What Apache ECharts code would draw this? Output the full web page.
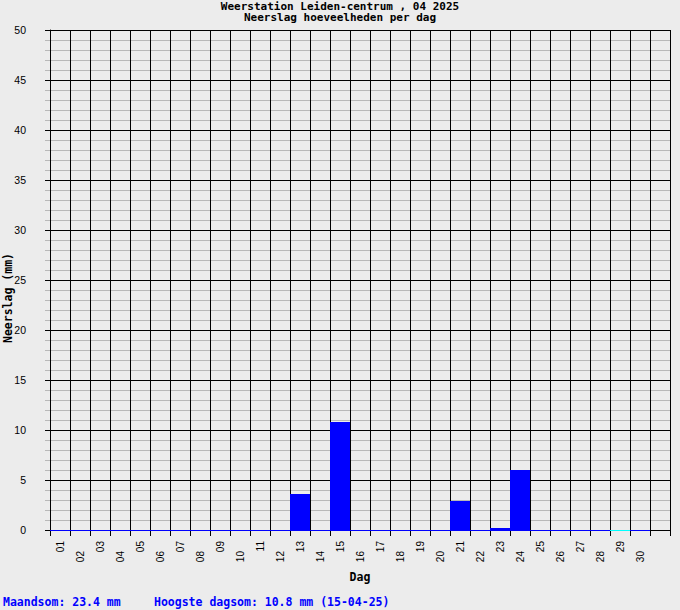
<!DOCTYPE html>
<html>
<head>
<meta charset="utf-8">
<script src="https://cdn.jsdelivr.net/npm/echarts@6/dist/echarts.min.js"></script>
<style>
html,body{margin:0;padding:0;background:#ececec;}
#chart{width:680px;height:610px;}
</style>
</head>
<body>
<div id="chart"></div>
<script>
// ---- data ----
const titleLines = ['Weerstation Leiden-centrum , 04 2025', 'Neerslag hoeveelheden per dag'];
const days = ['01','02','03','04','05','06','07','08','09','10','11','12','13','14','15','16','17','18','19','20','21','22','23','24','25','26','27','28','29','30',''];
const rain = [0,0,0,0,0,0,0,0,0,0,0,0,3.6,0,10.8,0,0,0,0,0,2.9,0,0.2,6.0,0,0,0,0,0,0,null];
const flaggedDays = ['29'];
const yAxisName = 'Neerslag (mm)';
const xAxisName = 'Dag';
const footerLeft = 'Maandsom: 23.4 mm';
const footerRight = 'Hoogste dagsom: 10.8 mm (15-04-25)';

// ---- chart ----
const MONO = '"DejaVu Sans Mono", monospace';
const SANS = '"Liberation Sans", Arial, sans-serif';
const chart = echarts.init(document.getElementById('chart'), null, {renderer: 'svg'});

const baseline = days.map((d, i) => d === '' ? null : [i, flaggedDays.includes(d) ? 1 : 0]).filter(v => v);
const titleFont = {fontFamily: MONO, fontWeight: 'bold', fontSize: 11, lineHeight: 11, color: '#000'};

chart.setOption({
  backgroundColor: '#ececec',
  animation: false,
  title: [
    {text: titleLines[0], left: 'center', top: 0.5, padding: 0, textStyle: titleFont},
    {text: titleLines[1], left: 'center', top: 12, padding: 0, textStyle: titleFont}
  ],
  graphic: [
    {type: 'text', left: 3, top: 596, style: {text: footerLeft, fontFamily: MONO, fontWeight: 'bold', fontSize: 11.5, fill: '#0000ff'}},
    {type: 'text', left: 154, top: 596, style: {text: footerRight, fontFamily: MONO, fontWeight: 'bold', fontSize: 11.5, fill: '#0000ff'}},
    {type: 'text', x: 8, y: 298, rotation: Math.PI / 2,
     style: {text: yAxisName, align: 'center', verticalAlign: 'middle', fontFamily: MONO, fontWeight: 'bold', fontSize: 11.5, fill: '#000'}}
  ],
  grid: {left: 50, right: 10, top: 30, bottom: 80, containLabel: false, outerBoundsMode: 'none'},
  xAxis: [
    {
      type: 'category', data: days, position: 'bottom', boundaryGap: true,
      name: xAxisName, nameLocation: 'middle', nameGap: 41,
      nameTextStyle: {fontFamily: MONO, fontWeight: 'bold', fontSize: 11.5, color: '#000'},
      axisLine: {show: true, lineStyle: {color: '#000', width: 1}},
      axisTick: {show: true, interval: 0, length: 6, alignWithLabel: false, lineStyle: {color: '#000'}},
      splitLine: {show: true, interval: 0, lineStyle: {color: '#000', width: 1}},
      axisLabel: {rotate: 90, margin: 11, interval: (i) => i % 2 === 0, fontFamily: SANS, fontSize: 10, color: '#000'}
    },
    {
      type: 'category', data: days, position: 'bottom', boundaryGap: true, gridIndex: 0,
      axisLine: {show: false}, axisTick: {show: false}, splitLine: {show: false},
      axisLabel: {rotate: 90, margin: 21, interval: (i) => i % 2 === 1, fontFamily: SANS, fontSize: 10, color: '#000'}
    }
  ],
  yAxis: {
    type: 'value', min: 0, max: 50, interval: 5,
    axisLine: {show: true, lineStyle: {color: '#000'}},
    axisTick: {show: true, length: 5, lineStyle: {color: '#000'}},
    minorTick: {show: true, splitNumber: 5, length: 5, lineStyle: {color: '#b8b8b8'}},
    splitLine: {show: true, lineStyle: {color: '#000', width: 1}},
    minorSplitLine: {show: true, lineStyle: {color: '#b8b8b8', width: 1}},
    axisLabel: {margin: 24, fontFamily: SANS, fontSize: 10.5, color: '#000'}
  },
  series: [
    {
      type: 'bar', xAxisIndex: 0, data: rain, barWidth: '100%', barCategoryGap: '0%',
      itemStyle: {color: '#0000ff'}, z: 3
    },
    {
      type: 'custom', xAxisIndex: 0, data: baseline, z: 4,
      renderItem: function (params, api) {
        const p = api.coord([api.value(0), 0]);
        const w = api.size([1, 0])[0];
        const y = Math.round(p[1]) + 0.5;
        return {
          type: 'line',
          shape: {x1: p[0] - w / 2, y1: y, x2: p[0] + w / 2, y2: y},
          style: {stroke: api.value(1) === 1 ? '#00ffff' : '#0000ff', lineWidth: 1}
        };
      }
    }
  ]
});
</script>
</body>
</html>
